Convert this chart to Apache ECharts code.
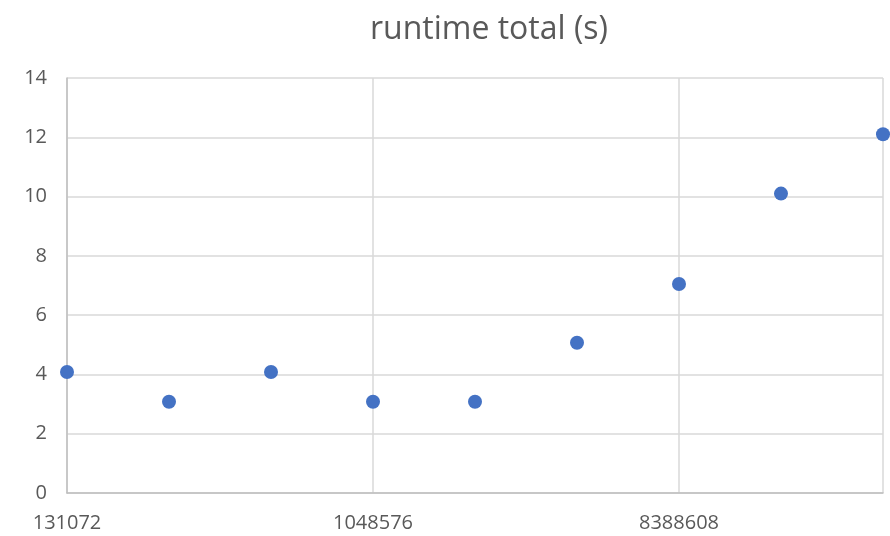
<!DOCTYPE html>
<html>
<head>
<meta charset="utf-8">
<script src="https://cdn.jsdelivr.net/npm/echarts@6/dist/echarts.min.js"></script>
<style>
  html, body { margin: 0; padding: 0; background: #fff; }
  #chart { width: 890px; height: 536px; }
</style>
</head>
<body>
<div id="chart"></div>
<script>
// Problem size (elements) and total runtime in seconds
const sizes = [131072, 262144, 524288, 1048576, 2097152, 4194304, 8388608, 16777216, 33554432];
const runtimes = [4.08, 3.08, 4.08, 3.08, 3.08, 5.07, 7.05, 10.1, 12.1];
const yTicks = [0, 2, 4, 6, 8, 10, 12, 14];

const chart = echarts.init(document.getElementById('chart'));
const textColor = '#595959';
const gridColor = '#d9d9d9';

chart.setOption({
  animation: false,
  title: {
    text: 'runtime total (s)',
    left: 484,
    textAlign: 'center',
    top: 9,
    textStyle: { fontFamily: 'Open Sans', fontSize: 32, fontWeight: 'normal', color: textColor }
  },
  grid: { left: 67, right: 7, top: 78, bottom: 43 },
  xAxis: {
    type: 'log',
    logBase: 2,
    min: sizes[0],
    max: sizes[sizes.length - 1],
    interval: 3,
    axisLine: { lineStyle: { color: '#bfbfbf', width: 1.5 } },
    axisTick: { show: false },
    splitLine: { show: true, lineStyle: { color: gridColor, width: 1.5 } },
    axisLabel: {
      color: textColor, fontFamily: 'Open Sans', fontSize: 20, margin: 20,
      showMaxLabel: false,
      formatter: v => String(Math.round(v))
    }
  },
  yAxis: {
    type: 'value',
    min: yTicks[0],
    max: yTicks[yTicks.length - 1],
    interval: 2,
    axisLine: { show: true, lineStyle: { color: '#bfbfbf', width: 1.5 } },
    axisTick: { show: false },
    splitLine: { lineStyle: { color: gridColor, width: 1.5 } },
    axisLabel: { color: textColor, fontFamily: 'Open Sans', fontSize: 20, margin: 20 }
  },
  series: [{
    type: 'scatter',
    data: sizes.map((s, i) => [s, runtimes[i]]),
    symbolSize: 14,
    itemStyle: { color: '#4472C4', opacity: 1 }
  }]
});
</script>
</body>
</html>
